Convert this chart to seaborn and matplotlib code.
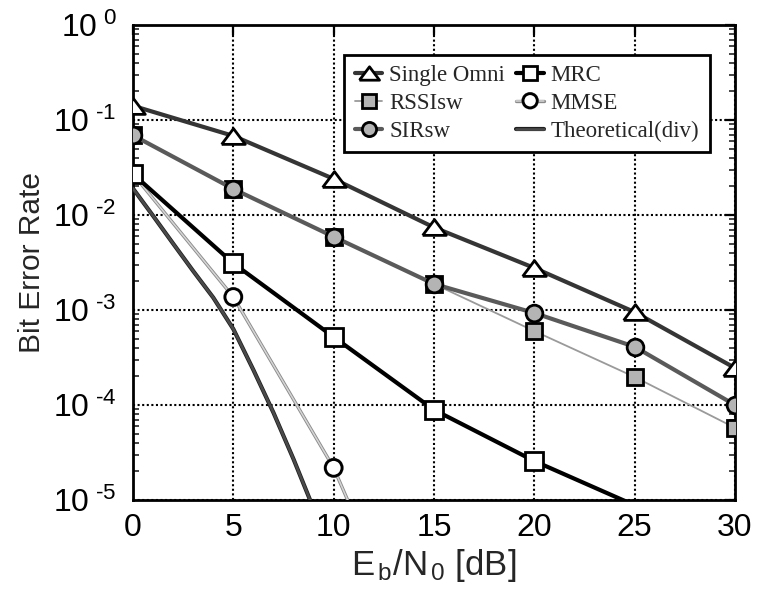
import numpy as np
import pandas as pd
import matplotlib
matplotlib.use("Agg")
import matplotlib.pyplot as plt
import matplotlib.patheffects as pe
from matplotlib.ticker import LogLocator, FixedLocator, FuncFormatter, NullFormatter
import seaborn as sns

# Eb/N0 points (dB) of the simulated curves
snr_db = [0, 5, 10, 15, 20, 25, 30]

single_omni = [0.141, 0.068, 0.024, 0.0074, 0.00277, 0.00095, 0.000245]
rssi_sw = [0.069, 0.0188, 0.0059, 0.00188, 0.0006, 0.000197, 0.0000575]
sir_sw = [0.069, 0.0188, 0.0059, 0.00188, 0.00093, 0.00041, 0.0001]

mrc_db = [0, 5, 10, 15, 20, 25]
mrc = [0.027, 0.0031, 0.00052, 0.000089, 0.0000257, 0.0000088]

mmse_db = [0, 5, 10, 15]
mmse = [0.027, 0.00137, 0.0000218, 0.00000008]

# theoretical diversity curve
theory_db = [0, 1, 2, 3, 4, 5, 6, 7, 8, 9]
theory = [0.019, 0.0098, 0.0050, 0.00257, 0.00135, 0.00063, 0.000234,
          0.000083, 0.0000269, 0.0000081]

x_ticks = [0, 5, 10, 15, 20, 25, 30]
y_min, y_max = 1e-5, 1.0

sns.set_theme(style="white")
plt.rcParams["font.family"] = ["Liberation Sans", "DejaVu Sans"]
plt.rcParams["mathtext.fontset"] = "custom"
plt.rcParams["mathtext.rm"] = "Liberation Sans"
plt.rcParams["mathtext.it"] = "Liberation Sans:italic"
plt.rcParams["mathtext.bf"] = "Liberation Sans:bold"

fig = plt.figure(figsize=(7.63, 5.94), dpi=100)
ax = fig.add_axes([133 / 763, 1 - 500 / 594, 602 / 763, 475 / 594])

# flat triangle marker (wider than tall)
tri = [(-1.5, -1.0), (1.5, -1.0), (0.0, 1.0), (-1.5, -1.0)]


def visible(vals):
    return [i for i, v in enumerate(vals) if y_min <= v <= y_max]


def draw(xs, ys, label, color, lw, marker, ms, mfc, z, edge=None, edge_w=0.0):
    df = pd.DataFrame({"x": xs, "y": ys})
    kw = {}
    if marker is not None:
        kw = dict(marker=marker, markersize=ms, markerfacecolor=mfc,
                  markeredgecolor="black", markeredgewidth=2.0,
                  markevery=visible(ys))
    sns.lineplot(data=df, x="x", y="y", ax=ax, color=color, lw=lw,
                 label=label, zorder=z, legend=False, **kw)
    line = ax.lines[-1]
    if edge is not None:
        line.set_path_effects([pe.Stroke(linewidth=edge_w, foreground=edge),
                               pe.Normal()])
    return line


draw(snr_db, single_omni, "Single Omni", "#353535", 3.0, tri, 17, "white", 5)
draw(snr_db, rssi_sw, "RSSIsw", "#9a9a9a", 1.3, "s", 12, "#b4b4b4", 4)
draw(snr_db, sir_sw, "SIRsw", "#5a5a5a", 3.0, "o", 12, "#b4b4b4", 6)
draw(mrc_db, mrc, "MRC", "black", 3.0, "s", 12.5, "white", 5)
draw(mmse_db, mmse, "MMSE", "#d6d6d6", 1.1, "o", 12, "white", 4,
     edge="#8a8a8a", edge_w=2.4)
draw(theory_db, theory, "Theoretical(div)", "#4a4a4a", 1.9, None, 0, None, 3,
     edge="#1e1e1e", edge_w=3.0)

ax.set_yscale("log")
ax.set_xlim(0, 30)
ax.set_ylim(y_min, y_max)

ax.xaxis.set_major_locator(FixedLocator(x_ticks))
ax.yaxis.set_major_locator(LogLocator(base=10, numticks=10))
ax.yaxis.set_minor_locator(LogLocator(base=10, subs=np.arange(2, 10), numticks=10))
ax.yaxis.set_minor_formatter(NullFormatter())


def decade_label(v, pos):
    e = int(round(np.log10(v)))
    exp = r"\text{-}%d" % abs(e) if e < 0 else "%d" % e
    return r"$\mathregular{10^{\ %s}}$" % exp


ax.yaxis.set_major_formatter(FuncFormatter(decade_label))

ax.grid(True, which="major", color="black", linestyle=(0, (1, 1.2)), lw=1.5)
ax.set_axisbelow(True)

for s in ax.spines.values():
    s.set_color("black")
    s.set_linewidth(2.0)

ax.tick_params(which="major", direction="in", length=7, width=1.6,
               top=True, right=True, labelsize=23, colors="black", pad=9)
ax.tick_params(which="minor", direction="in", length=4, width=1.2,
               left=True, right=True)
ax.tick_params(axis="y", pad=12)

ax.set_xlabel(r"$\mathregular{E_{\,b}/N_{\,0}}$ [dB]", fontsize=25, labelpad=3)
ax.set_ylabel("Bit Error Rate", fontsize=21.5, labelpad=5)

handles, labels = ax.get_legend_handles_labels()
leg = ax.legend(handles, labels, ncol=2, loc="upper right",
                bbox_to_anchor=(0.977, 0.962),
                prop={"family": "Liberation Serif", "size": 16.5},
                frameon=True, fancybox=False, framealpha=1,
                edgecolor="black", handlelength=1.2, handletextpad=0.3,
                columnspacing=0.5, labelspacing=0.3, borderpad=0.45,
                markerscale=0.85)
leg.get_frame().set_linewidth(2.0)
leg.set_zorder(10)

fig.savefig("out.png", dpi=100, facecolor="white")
